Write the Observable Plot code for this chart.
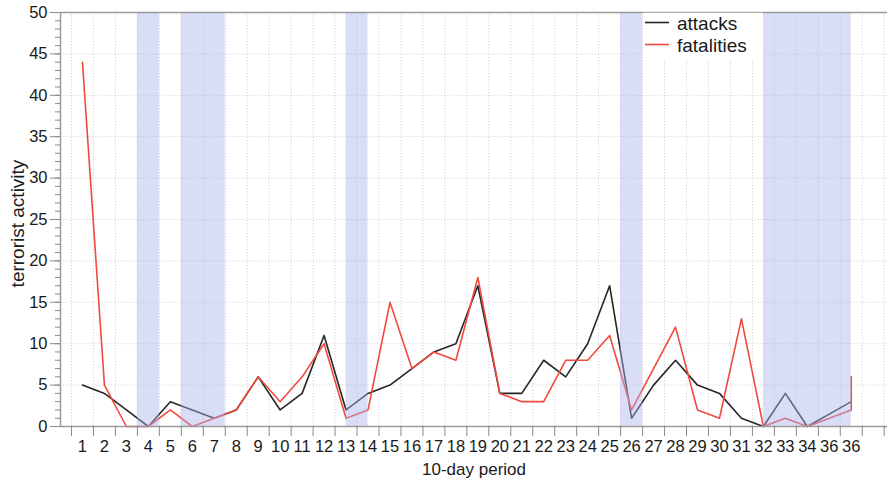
<!DOCTYPE html>
<html><head><meta charset="utf-8">
<script src="https://cdn.jsdelivr.net/npm/d3@7"></script>
<script src="https://cdn.jsdelivr.net/npm/@observablehq/plot@0.6"></script>
<style>body{margin:0;background:#fff} #chart{width:887px;height:482px}</style>
</head><body><div id="chart"></div>
<script>
const periods = [1,2,3,4,5,6,7,8,9,10,11,12,13,14,15,16,17,18,19,20,21,22,23,24,25,26,27,28,29,30,31,32,33,34,35,36];
const tickLabels = ["1","2","3","4","5","6","7","8","9","10","11","12","13","14","15","16","17","18","19","20","21","22","23","24","25","26","27","28","29","30","31","32","33","34","36","36"];
const attacks = [5,4,2,0,3,2,1,2,6,2,4,11,2,4,5,7,9,10,17,4,4,8,6,10,17,1,5,8,5,4,1,0,4,0,1.5,3];
const fatalities = [44,5,0,0,2,0,1,2,6,3,6,10,1,2,15,7,9,8,18,4,3,3,8,8,11,2,7,12,2,1,13,0,1,0,1,2];
const fatalitiesTailPeriod = [36];
const fatalitiesTailValue = [6];
const bandStart = [3.5,5.5,13,25.5,32];
const bandEnd = [4.5,7.5,14,26.5,36];
const yTicks = [0,5,10,15,20,25,30,35,40,45,50];
const yMinorTicks = d3.range(0,51,1);
const xBoundaryTicks = d3.range(0.5,38,1);
const seriesNames = ["attacks","fatalities"];
const seriesColors = ["#262626","#f04a3e"];

const attackRows = periods.map((p,i)=>({p, v: attacks[i]}));
const fatalityRows = periods.map((p,i)=>({p, v: fatalities[i]}))
  .concat(fatalitiesTailPeriod.map((p,i)=>({p, v: fatalitiesTailValue[i]})));
const bandRows = bandStart.map((s,i)=>({s, e: bandEnd[i]}));

const font = "'Liberation Sans', Arial, Helvetica, sans-serif";
const svg = Plot.plot({
  width: 887, height: 482,
  marginLeft: 60, marginRight: 0, marginTop: 12, marginBottom: 56,
  x: {domain: [0, 37.65], axis: null},
  y: {domain: [0, 50], axis: null},
  style: {fontFamily: font, background: "white", color: "#1a1a1a"},
  marks: [
    Plot.ruleY(yTicks.slice(1,-1), {stroke: "#d2d2d2", strokeDasharray: "1.2,2", strokeWidth: 1}),
    Plot.ruleX(xBoundaryTicks, {stroke: "#d2d2d2", strokeDasharray: "1.2,2", strokeWidth: 1}),
    Plot.line(attackRows, {x: "p", y: "v", stroke: seriesColors[0], strokeWidth: 1.6}),
    Plot.line(fatalityRows, {x: "p", y: "v", stroke: seriesColors[1], strokeWidth: 1.6}),
    Plot.rect(bandRows, {x1: "s", x2: "e", y1: 0, y2: 50, fill: "#aeb3ea", fillOpacity: 0.45}),
    Plot.ruleY([50], {stroke: "#9a9a9a", strokeWidth: 1.5}),
    Plot.ruleY([0], {stroke: "#9a9a9a", strokeWidth: 1.5}),
    Plot.ruleX([0], {stroke: "#9a9a9a", strokeWidth: 1.5}),
    Plot.axisY({ticks: yMinorTicks, tickSize: 5, tickFormat: () => "", stroke: "#8a8a8a", label: null}),
    Plot.axisY({ticks: yTicks, tickSize: 10, tickPadding: 3, fontSize: 16.5, stroke: "#8a8a8a", fill: "#1a1a1a", label: null}),
    Plot.axisX({ticks: xBoundaryTicks, tickSize: 10, tickFormat: () => "", stroke: "#8a8a8a", label: null}),
    Plot.axisX({ticks: periods, tickSize: 0, tickPadding: 14, fontSize: 16.5, fill: "#1a1a1a", tickFormat: d => tickLabels[d-1], label: null}),
    Plot.text(["10-day period"], {frameAnchor: "bottom", dy: 48, textAnchor: "middle", lineAnchor: "bottom", fontSize: 17, fill: "#1a1a1a"}),
    Plot.text(["terrorist activity"], {frameAnchor: "left", dx: -37, dy: 4, rotate: -90, textAnchor: "middle", lineAnchor: "bottom", fontSize: 19, fill: "#1a1a1a"})
  ]
});
document.getElementById("chart").appendChild(svg);

// legend
const lg = d3.select(svg).append("g").attr("font-family", font).attr("text-anchor", "start");
lg.append("rect").attr("x", 643).attr("y", 12.8).attr("width", 120).attr("height", 47).attr("fill", "white");
seriesNames.forEach((name, i) => {
  const y = 22.5 + i*22;
  lg.append("line").attr("x1", 645).attr("x2", 669).attr("y1", y).attr("y2", y)
    .attr("stroke", seriesColors[i]).attr("stroke-width", 1.6);
  lg.append("text").attr("x", 677).attr("y", y + 7).attr("font-size", 19)
    .attr("text-anchor", "start").attr("fill", "#1a1a1a").text(name);
});
</script></body></html>
